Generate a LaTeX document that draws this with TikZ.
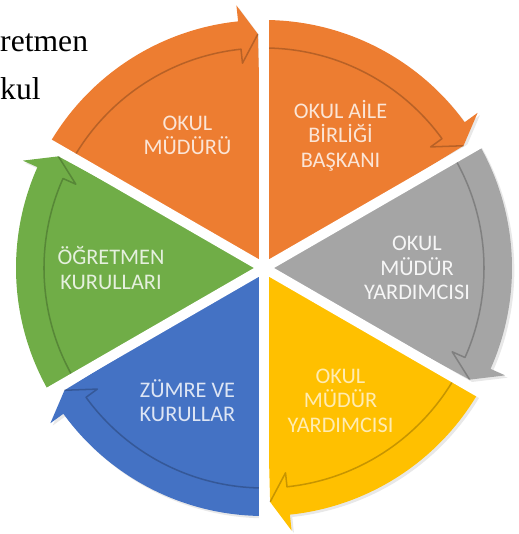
\documentclass[tikz,border=0pt]{standalone}
\usepackage{fontspec}
\setmainfont{Carlito}
\newfontfamily\fundo{Liberation Serif}
\usetikzlibrary{shadows}

\definecolor{laranja}{HTML}{ED7D31}
\definecolor{cinza}{HTML}{A5A5A5}
\definecolor{amarelo}{HTML}{FFC000}
\definecolor{azul}{HTML}{4472C4}
\definecolor{verde}{HTML}{70AD47}

% fatia com seta circular: #1 cor, #2 angulo inicial
\newcommand{\fatia}[2]{%
    \fill[#1, drop shadow={opacity=0.18, shadow xshift=2pt, shadow yshift=-2pt}]
        (0,0) -- (#2:248) arc[start angle=#2, end angle=#2-54, radius=248]
        -- (#2-54:264) -- (#2-58.5:234) -- cycle;
    \draw[black, opacity=0.22, line width=1.3pt, line join=round]
        (#2:220) arc[start angle=#2, end angle=#2-54, radius=220]
        -- (#2-54:206) -- (#2-58.5:234);
}

\begin{document}
\begin{tikzpicture}[
        x = 0.03cm, y = 0.03cm,
        line join=round,
        mystyle/.style = {align=center, font=\fontsize{19}{21}\selectfont},
        gap/.style = {white, line width=0.3cm}
    ]

    \useasboundingbox (-264,-266) rectangle (254,268);

    % texto do documento por tras
    \node[anchor=base west, inner sep=0pt, font=\fundo\fontsize{27}{32}\selectfont] (t1) at (-264,216) {retmen};
    \node[anchor=base west, inner sep=0pt, font=\fundo\fontsize{27}{32}\selectfont] (t2) at (-264,168) {kul};

    \fatia{laranja}{150}
    \fatia{laranja}{90}
    \fatia{cinza}{30}
    \fatia{amarelo}{-30}
    \fatia{azul}{-90}
    \fatia{verde}{210}

    \draw[gap] (0,0) -- (90:275);
    \draw[gap] (0,0) -- (30:275);
    \draw[gap] (0,0) -- (-30:275);
    \draw[gap] (0,0) -- (-90:275);
    \draw[gap] (0,0) -- (-150:275);
    \draw[gap] (0,0) -- (150:275);

    \node[mystyle, text=white!80!laranja] (mudur) at (120:153) {OKUL\\MÜDÜRÜ};
    \node[mystyle, text=white!80!laranja] (aile) at (60:153) {OKUL AİLE\\BİRLİĞİ\\BAŞKANI};
    \node[mystyle, text=white!90!cinza] (yard1) at (0:153) {OKUL\\MÜDÜR\\YARDIMCISI};
    \node[mystyle, text=white!70!amarelo] (yard2) at (-60:153) {OKUL\\MÜDÜR\\YARDIMCISI};
    \node[mystyle, text=white!82!azul] (zumre) at (-120:153) {ZÜMRE VE\\KURULLAR};
    \node[mystyle, text=white!82!verde] (ogretmen) at (180:153) {ÖĞRETMEN\\KURULLARI};

\end{tikzpicture}
\end{document}
